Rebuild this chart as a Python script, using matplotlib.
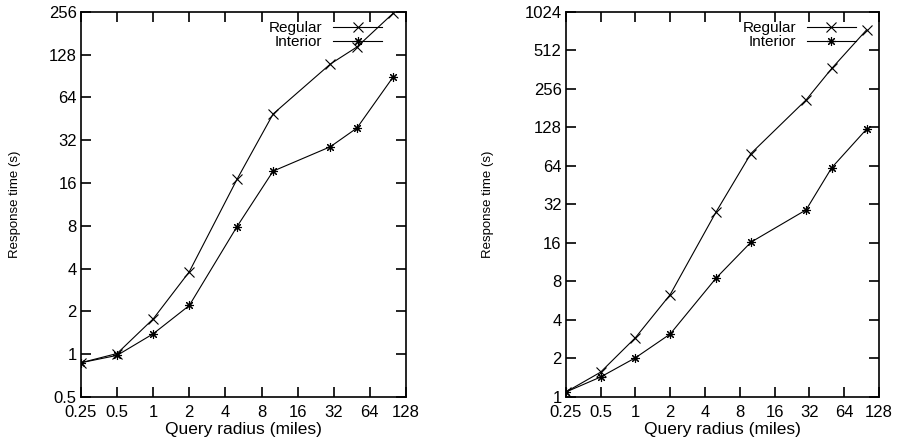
import matplotlib
matplotlib.use("Agg")
import matplotlib.pyplot as plt

plt.rcParams['font.family'] = ['Liberation Sans', 'DejaVu Sans']

radius = [0.25, 0.5, 1, 2, 5, 10, 30, 50, 100]

left_regular = [0.87, 1.01, 1.77, 3.8, 17.0, 49, 110, 145, 250]
left_interior = [0.87, 0.98, 1.39, 2.2, 7.9, 19.4, 28.8, 39, 89]

right_regular = [1.09, 1.56, 2.9, 6.3, 28, 80, 210, 370, 740]
right_interior = [1.09, 1.43, 2.02, 3.1, 8.5, 16.2, 29, 62, 124]

x_ticks = [0.25, 0.5, 1, 2, 4, 8, 16, 32, 64, 128]
x_labels = ["0.25", "0.5", "1", "2", "4", "8", "16", "32", "64", "128"]
left_yticks = [0.5, 1, 2, 4, 8, 16, 32, 64, 128, 256]
left_ylabels = ["0.5", "1", "2", "4", "8", "16", "32", "64", "128", "256"]
right_yticks = [1, 2, 4, 8, 16, 32, 64, 128, 256, 512, 1024]
right_ylabels = ["1", "2", "4", "8", "16", "32", "64", "128", "256", "512", "1024"]

ASTERISK = (8, 2, 0)


def draw_panel(ax, regular, interior, yticks, ylabels):
    ax.plot(radius, regular, color="black", lw=0.8, marker="x", ms=6.5,
            mew=0.8, label="Regular")
    ax.plot(radius, interior, color="black", lw=0.8, marker=ASTERISK, ms=6.5,
            mew=0.8, label="Interior")
    ax.set_xscale("log", base=2)
    ax.set_yscale("log", base=2)
    ax.set_xlim(x_ticks[0], x_ticks[-1])
    ax.set_ylim(yticks[0], yticks[-1])
    ax.set_xticks(x_ticks)
    ax.set_xticklabels(x_labels)
    ax.set_yticks(yticks)
    ax.set_yticklabels(ylabels)
    ax.minorticks_off()
    ax.tick_params(direction="in", length=7, width=1.2, top=True, right=True,
                   labelsize=12)
    ax.tick_params(axis="x", pad=6)
    ax.tick_params(axis="y", pad=3)
    for s in ax.spines.values():
        s.set_linewidth(1.2)
    ax.set_xlabel("Query radius (miles)", fontsize=12.5, labelpad=1)
    ax.set_ylabel("Response time (s)", fontsize=9.5)
    ax.legend(loc="upper right", frameon=False, markerfirst=False,
              fontsize=11, handlelength=3.2, handletextpad=0.7,
              labelspacing=0.0, borderaxespad=0.2,
              bbox_to_anchor=(0.955, 1.0))


fig = plt.figure(figsize=(9, 4.41), dpi=100)
ax1 = fig.add_axes([0.09, 0.10, 0.361, 0.873])
ax2 = fig.add_axes([0.6286, 0.10, 0.348, 0.873])

draw_panel(ax1, left_regular, left_interior, left_yticks, left_ylabels)
draw_panel(ax2, right_regular, right_interior, right_yticks, right_ylabels)
ax1.yaxis.set_label_coords(-0.185, 0.5)
ax2.yaxis.set_label_coords(-0.229, 0.5)

fig.savefig("out.png", dpi=100)
